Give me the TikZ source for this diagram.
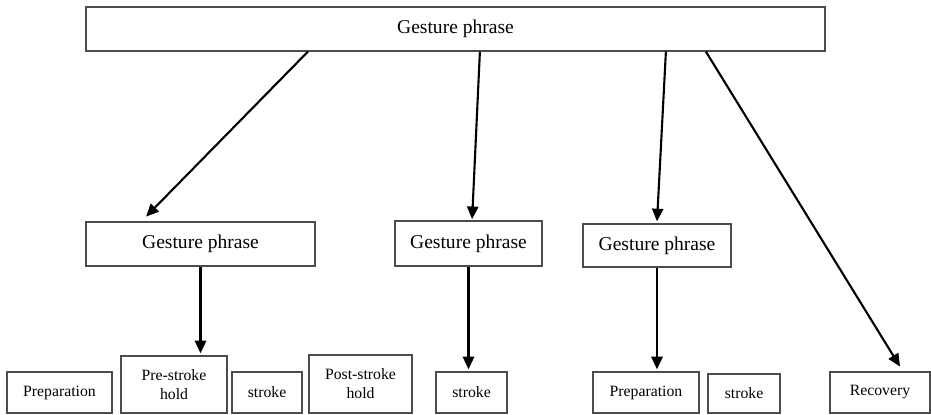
\documentclass[tikz,border=0pt]{standalone}
\usepackage{fontspec}
\setmainfont{Liberation Serif}
\usetikzlibrary{arrows.meta}

\begin{document}
\begin{tikzpicture}[
	box/.style={draw=black!70, line width=0.9pt, inner sep=0pt, align=center},
	bigbox/.style={box, font=\fontsize{13.9}{16}\selectfont},
	smallbox/.style={box, font=\fontsize{11.2}{13.5}\selectfont},
	arr/.style={line width=1.5pt, -{Triangle[length=9pt,width=8pt]}}
	]
	\useasboundingbox (0,0) rectangle (23.275,10.35);
	
	\node[bigbox, minimum width=18.475cm, minimum height=1.1cm] (top) at (11.3875,9.625) {Gesture phrase};
	
	\node[bigbox, minimum width=5.725cm, minimum height=1.1cm] (phraseA) at (5.0125,4.25) {Gesture phrase};
	\node[bigbox, minimum width=3.675cm, minimum height=1.125cm] (phraseB) at (11.7125,4.2625) {Gesture phrase};
	\node[bigbox, minimum width=3.7cm, minimum height=1.075cm] (phraseC) at (16.425,4.2125) {Gesture phrase};
	
	\node[smallbox, minimum width=2.625cm, minimum height=1.025cm] (prepA) at (1.4875,0.5375) {Preparation};
	\node[smallbox, minimum width=2.65cm, minimum height=1.425cm] (prehold) at (4.35,0.7375) {Pre-stroke\\hold};
	\node[smallbox, minimum width=1.75cm, minimum height=1.025cm] (strokeA) at (6.675,0.5375) {stroke};
	\node[smallbox, minimum width=2.575cm, minimum height=1.45cm] (posthold) at (9.0125,0.75) {Post-stroke\\hold};
	\node[smallbox, minimum width=1.775cm, minimum height=1.025cm] (strokeB) at (11.7875,0.5375) {stroke};
	\node[smallbox, minimum width=2.65cm, minimum height=1.025cm] (prepC) at (16.15,0.5375) {Preparation};
	\node[smallbox, minimum width=1.8cm, minimum height=0.975cm] (strokeC) at (18.6,0.5125) {stroke};
	\node[smallbox, minimum width=2.5cm, minimum height=1.025cm] (recovery) at (22.0,0.5375) {Recovery};
	
	\draw[arr] ([xshift=-3.69cm]top.south) -- ([xshift=-1.36cm,yshift=0.12cm]phraseA.north);
	\draw[arr] ([xshift=0.61cm]top.south) -- ([xshift=0.09cm,yshift=0.03cm]phraseB.north);
	\draw[arr] ([xshift=5.26cm]top.south) -- ([yshift=0.05cm]phraseC.north);
	\draw[arr] ([xshift=6.26cm]top.south) -- ([xshift=0.5cm,yshift=0.12cm]recovery.north);
	
	\draw[arr] (phraseA.south) -- ([yshift=0.05cm]phraseA.south |- prehold.north);
	\draw[arr] (phraseB.south) -- ([yshift=0.05cm]phraseB.south |- strokeB.north);
	\draw[arr] (phraseC.south) -- ([yshift=0.05cm]phraseC.south |- prepC.north);
\end{tikzpicture}
\end{document}
